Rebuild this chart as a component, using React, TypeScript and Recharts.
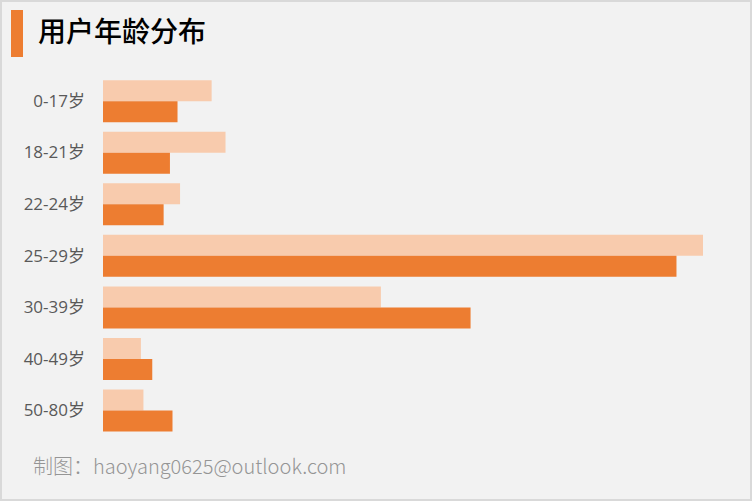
import React from "react";
import { Bar, BarChart, XAxis, YAxis } from "recharts";

// age groups, top to bottom
const ageGroups = ["0-17岁", "18-21岁", "22-24岁", "25-29岁", "30-39岁", "40-49岁", "50-80岁"];
// share of users (%), light series drawn above the dark one in each group
const lightValues = [8.6, 9.7, 6.1, 47.5, 22.0, 3.0, 3.2];
const darkValues = [5.9, 5.3, 4.8, 45.4, 29.1, 3.9, 5.5];

const data = ageGroups.map((name, i) => ({ name, light: lightValues[i], dark: darkValues[i] }));

const FONT = '"Noto Sans CJK SC", "Noto Sans", sans-serif';
const TICK_FONT = '"Open Sans", "Noto Sans CJK SC", sans-serif';

if (typeof document !== "undefined") document.body.style.margin = "0";

export default function App() {
  return (
    <div
      style={{
        position: "relative",
        width: 752,
        height: 501,
        background: "#f2f2f2",
        boxShadow: "inset 0 0 0 2px #d9d9d9",
        fontFamily: FONT,
        overflow: "hidden",
      }}
    >
      <div style={{ position: "absolute", left: 11, top: 10, width: 12, height: 47, background: "#ED7D31" }} />
      <div
        style={{
          position: "absolute",
          left: 38,
          top: 11,
          fontSize: 28,
          lineHeight: "38px",
          fontWeight: 500,
          color: "#000",
        }}
      >
        用户年龄分布
      </div>

      <div style={{ position: "absolute", left: 0, top: 0 }}>
        <BarChart
          width={752}
          height={501}
          data={data}
          layout="vertical"
          margin={{ top: 75, right: 49, bottom: 65, left: 0 }}
          barCategoryGap="10%"
          barGap={0}
        >
          <XAxis type="number" hide domain={[0, 47.5]} />
          <YAxis
            type="category"
            dataKey="name"
            width={103}
            axisLine={false}
            tickLine={false}
            tickSize={0}
            tickMargin={18}
            tick={{ fill: "#595959", fontSize: 17, fontFamily: TICK_FONT }}
          />
          <Bar dataKey="light" fill="#F8CBAD" isAnimationActive={false} />
          <Bar dataKey="dark" fill="#ED7D31" isAnimationActive={false} />
        </BarChart>
      </div>

      <div
        style={{
          position: "absolute",
          left: 33,
          top: 452,
          fontSize: 20,
          lineHeight: "28px",
          color: "#959595",
          fontWeight: 300,
        }}
      >
        制图：haoyang0625@outlook.com
      </div>
    </div>
  );
}
